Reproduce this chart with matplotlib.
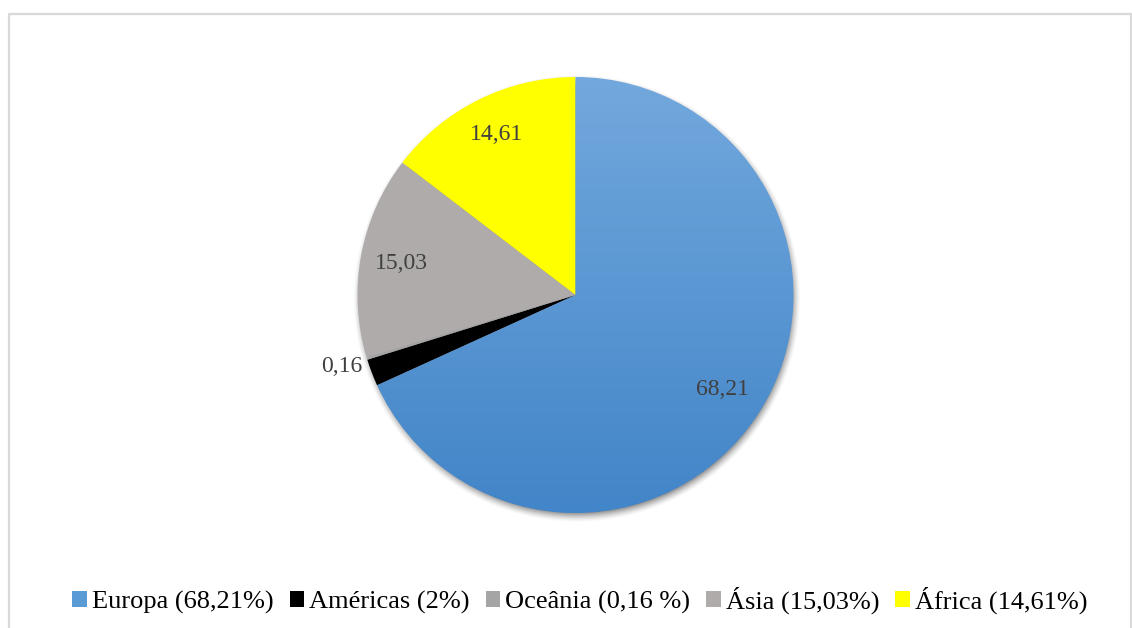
import numpy as np
import matplotlib.pyplot as plt
from matplotlib.patches import Rectangle
from matplotlib.colors import LinearSegmentedColormap

# data (percent)
regioes = ['Europa', 'Américas', 'Oceânia', 'Ásia', 'África']
valores = [68.21, 2.0, 0.16, 15.03, 14.61]
rotulos = ['68,21', '', '0,16', '15,03', '14,61']
legenda = ['Europa (68,21%)', 'Américas (2%)', 'Oceânia (0,16 %)', 'Ásia (15,03%)', 'África (14,61%)']
cores = ['#5b9bd5', '#000000', '#a5a5a5', '#afabab', '#ffff00']
rotulo_dist = [0.80, 1.0, 1.12, 0.81, 0.82]

plt.rcParams['font.family'] = ['Liberation Serif', 'DejaVu Serif']

W, H = 1132, 628
fig = plt.figure(figsize=(W / 100, H / 100), dpi=100)
ax = fig.add_axes([0, 0, 1, 1])
ax.set_xlim(0, W)
ax.set_ylim(0, H)
ax.set_aspect('equal')
ax.axis('off')

cx, cy, r = 575.5, H - 295, 218

# soft shadow under the pie
xx, yy = np.meshgrid(np.arange(W), np.arange(H))
d = np.sqrt((xx - (cx + 1)) ** 2 + (yy - (cy - 4)) ** 2)
sh = np.clip((r + 6 - d) / 10, 0, 1) ** 1.5 * 0.45
shadow = np.zeros((H, W, 4))
shadow[..., 3] = sh
ax.imshow(shadow, extent=(0, W, 0, H), origin='lower', zorder=0.5)

wedges, _ = ax.pie(valores, colors=cores, startangle=90, counterclock=False,
                   center=(cx, cy), radius=r, frame=True,
                   wedgeprops=dict(linewidth=0))
for w in wedges:
    w.set_zorder(1)

# gradient fill for Europa
grad = LinearSegmentedColormap.from_list('g', ['#4285c8', '#72a8dd'])
gimg = np.linspace(0, 1, 256).reshape(-1, 1)
im = ax.imshow(gimg, cmap=grad, extent=(cx - r, cx + r, cy - r, cy + r),
               origin='lower', aspect='auto', zorder=1.5)
im.set_clip_path(wedges[0])
wedges[0].set_facecolor('none')

ax.set_xlim(0, W)
ax.set_ylim(0, H)
ax.axis('off')

# data labels
for w, txt, dist in zip(wedges, rotulos, rotulo_dist):
    if not txt:
        continue
    ang = np.deg2rad((w.theta1 + w.theta2) / 2)
    ax.text(cx + dist * r * np.cos(ang), cy + dist * r * np.sin(ang), txt,
            ha='center', va='center', fontsize=17, color='#404040', zorder=3)

# chart frame
ax.plot([8.5, 8.5, 1130.5, 1130.5], [0, H - 14, H - 14, 0], color='#d9d9d9',
        lw=1.6, zorder=4, clip_on=False)

leg_cores = ['#5b9bd5', '#000000', '#a5a5a5', '#afabab', '#ffff00']
handles = [Rectangle((0, 0), 1, 1, facecolor=c, edgecolor='none') for c in leg_cores]
ax.legend(handles, legenda, loc='center', bbox_to_anchor=(580 / W, 1 - 600 / H),
          ncol=5, frameon=False, fontsize=19, handlelength=0.55, handleheight=0.55,
          handletextpad=0.2, columnspacing=0.6, borderaxespad=0)

fig.savefig('out.png', dpi=100)
